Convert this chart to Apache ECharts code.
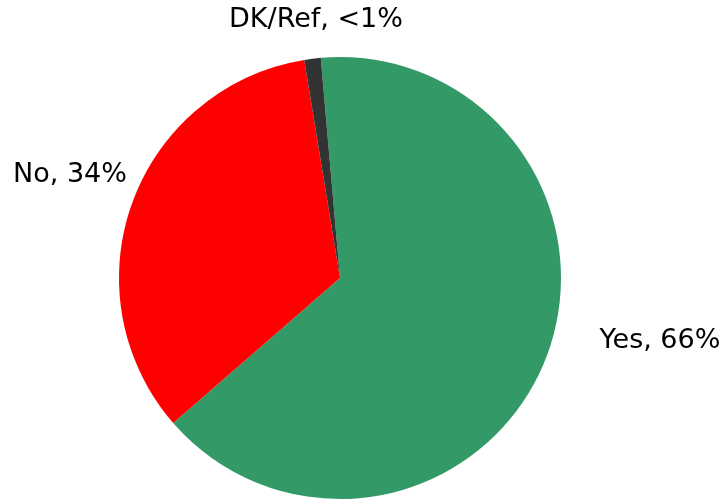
<!DOCTYPE html>
<html>
<head>
<meta charset="utf-8">
<script src="https://cdn.jsdelivr.net/npm/echarts@6/dist/echarts.min.js"></script>
<style>
    html, body { margin: 0; padding: 0; background: #fff; }
    #chart { width: 723px; height: 501px; }
</style>
</head>
<body>
<div id="chart"></div>
<script>
var categories = ['Yes', 'No', 'DK/Ref'];
var values = [65, 33.8, 1.2];
var shownPct = ['66%', '34%', '<1%'];
var colors = ['#339966', '#FF0000', '#333333'];

init();

function init() {
    var myChart = echarts.init(document.getElementById('chart'));
    var seriesData = [];
    categories.forEach(function (name, i) {
        seriesData.push({
            name: name,
            value: values[i],
            itemStyle: { color: colors[i] }
        });
    });
    // where each label sits (centre of text)
    var labelPos = [
        { x: 660, y: 341 },
        { x: 70, y: 175 },
        { x: 316, y: 20 }
    ];
    var option = {
        animation: false,
        series: [{
            type: 'pie',
            center: [340, 278],
            radius: 221,
            startAngle: 95,
            clockwise: true,
            data: seriesData,
            label: {
                show: true,
                position: 'outside',
                alignTo: 'none',
                overflow: 'none',
                fontFamily: 'DejaVu Sans',
                fontSize: 27,
                color: '#000',
                formatter: function (p) {
                    return p.name + ', ' + shownPct[p.dataIndex];
                }
            },
            labelLine: { show: false },
            labelLayout: function (params) {
                var p = labelPos[params.dataIndex];
                return {
                    x: p.x,
                    y: p.y,
                    align: 'center',
                    verticalAlign: 'middle'
                };
            }
        }]
    };
    myChart.setOption(option);
}
</script>
</body>
</html>
